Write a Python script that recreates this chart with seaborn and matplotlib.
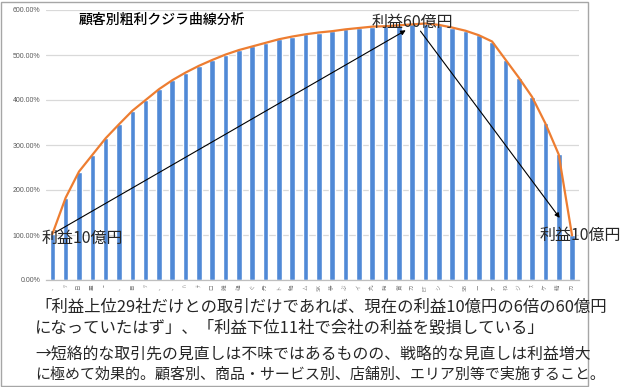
import matplotlib
matplotlib.use("Agg")
import matplotlib.pyplot as plt
from matplotlib.patches import Rectangle
import numpy as np
import pandas as pd
import seaborn as sns

# 顧客別の累積粗利（%）
customers = ["、", "ﾂ", "日", "霊", "ｰ", "、", "目", "ﾂ", "、", "、", "ﾊ", "ﾃ", "口",
             "雑", "樋", "ぐ", "丹", "ト", "鍋", "ム", "SK", "恭", "ぶ", "イ", "丸", "発",
             "賞", "カ", "ET", "シ", "ﾉ", "SB", "ー", "ァ", "ね", "ジ", "ｽ", "ケ", "精", "カ"]
profit_pct = [102, 183, 241, 278, 315, 346, 376, 400, 424, 444, 461, 476, 489, 501,
              511, 519, 527, 535, 541, 546, 550, 553, 557, 560, 563, 564, 566, 568,
              570, 567, 561, 554, 544, 530, 490, 450, 407, 348, 279, 99]

title = "顧客別粗利クジラ曲線分析"
note_lines = ["「利益上位29社だけとの取引だけであれば、現在の利益10億円の6倍の60億円",
              "になっていたはず」、「利益下位11社で会社の利益を毀損している」",
              "→短絡的な取引先の見直しは不味ではあるものの、戦略的な見直しは利益増大",
              "に極めて効果的。顧客別、商品・サービス別、店舗別、エリア別等で実施すること。"]

sns.set_theme(style="white")
plt.rcParams['font.family'] = ['Noto Sans CJK JP', 'DejaVu Sans']

df = pd.DataFrame({'idx': np.arange(len(profit_pct)), 'profit': profit_pct})

fig = plt.figure(figsize=(6.3, 3.87), dpi=100)
ax = fig.add_axes([45.7 / 630, 1 - 280 / 387, 533 / 630, 270 / 387])

sns.barplot(data=df, x='idx', y='profit', color='#5089d6', width=0.42,
            saturation=1, ax=ax, zorder=2)
sns.lineplot(data=df, x='idx', y='profit', color='#ed7d31', linewidth=1.6,
             ax=ax, zorder=3)

ax.set_xlim(-0.5, len(profit_pct) - 0.5)
ax.set_ylim(0, 600)
ax.set_yticks(range(0, 601, 100))
ax.set_yticklabels([f"{v:.2f}%" for v in range(0, 601, 100)], fontsize=5,
                   color='#595959', family=['Liberation Sans', 'DejaVu Sans'])
ax.yaxis.grid(True, color='#d9d9d9', linewidth=0.9, zorder=0)
ax.set_axisbelow(True)
ax.set_xticks(df['idx'])
ax.set_xticklabels(customers, rotation=90, fontsize=4, color='#7f7f7f')
ax.set_xticks(np.arange(-0.5, len(profit_pct), 1), minor=True)
ax.tick_params(axis='x', which='major', length=0, pad=3)
ax.tick_params(axis='x', which='minor', length=3, color='#bfbfbf', width=0.8)
ax.tick_params(axis='y', length=0, pad=4)
ax.set_xlabel("")
ax.set_ylabel("")
for side in ['top', 'right', 'left']:
    ax.spines[side].set_visible(False)
ax.spines['bottom'].set_color('#bfbfbf')
ax.spines['bottom'].set_linewidth(0.9)

ax.text(0.062, 0.963, title, transform=ax.transAxes, fontsize=10,
        va='center', ha='left', color='black', fontweight='medium')

# 矢印と注記
arrow = dict(arrowstyle='-|>', color='black', lw=0.8, mutation_scale=7)
ax.annotate("", xy=(26.7, 558), xytext=(0, profit_pct[0]), arrowprops=arrow)
ax.annotate("", xy=(38.2, 133), xytext=(27.5, 558), arrowprops=arrow)
ax.text(-0.78, 93, "利益10億円", fontsize=11.5, ha='left', va='center', zorder=5)
ax.text(23.98, 573, "利益60億円", fontsize=11.5, ha='left', va='center', zorder=5)
ax.text(36.6, 100, "利益10億円", fontsize=11.5, ha='left', va='center', zorder=5,
        clip_on=False)

ys = [307, 328, 354, 375]
sizes = [11.8, 11.8, 11.4, 10.8]
for line, y, fs in zip(note_lines, ys, sizes):
    fig.text(35 / 630, 1 - y / 387, line, fontsize=fs, ha='left', va='center')

fig.patches.append(Rectangle((1 / 630, 1 / 387), 587 / 630, 384 / 387,
                             transform=fig.transFigure, fill=False,
                             edgecolor='#a6a6a6', linewidth=1))

fig.savefig("out.png", dpi=100)
